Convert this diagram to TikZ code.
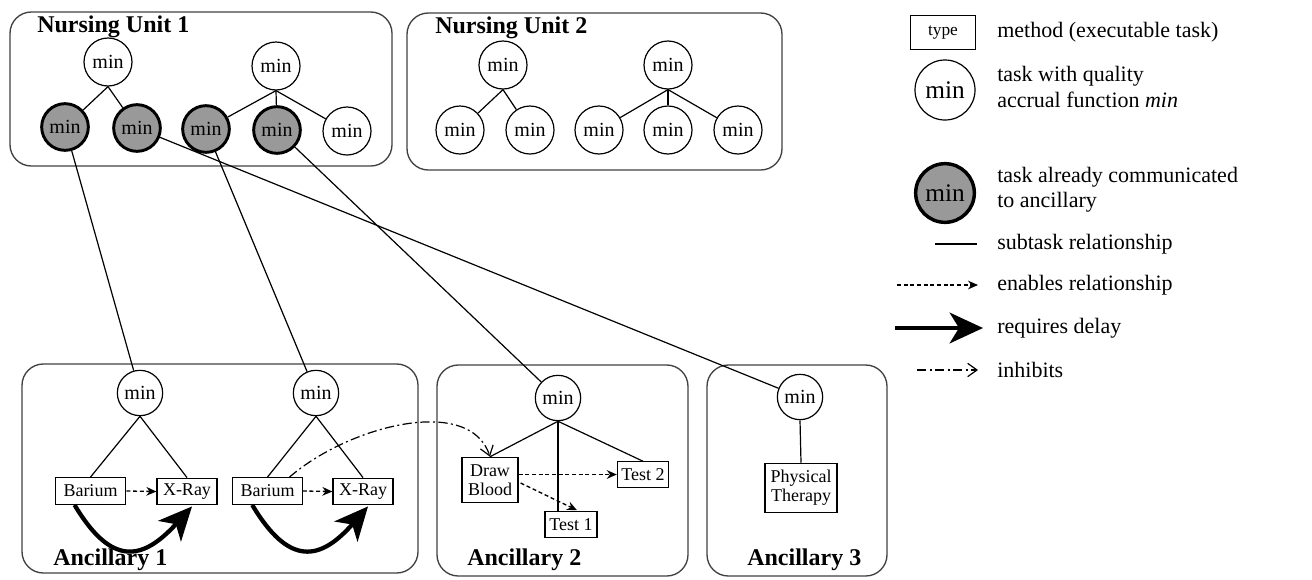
\documentclass[tikz,border=0pt]{standalone}
\usepackage{fontspec}
\setmainfont{Liberation Serif}
\usetikzlibrary{arrows.meta,calc}
\begin{document}
\begin{tikzpicture}[x=0.75pt,y=-0.75pt,
 unitbox/.style={draw=black!75,line width=1pt,rounded corners=16pt},
 title/.style={font=\fontsize{18}{18}\selectfont\bfseries,anchor=base west,inner sep=0},
 task/.style={circle,draw,line width=0.9pt,minimum size=36pt,inner sep=0,font=\fontsize{15}{15}\selectfont},
 donetask/.style={task,fill=black!40,line width=2.2pt,minimum size=35pt},
 atask/.style={task,minimum size=34pt},
 method/.style={draw,line width=0.9pt,inner xsep=3pt,inner ysep=2pt,minimum height=20pt,font=\fontsize{13.5}{14}\selectfont,align=center},
 sub/.style={line width=0.9pt},
 enab/.style={line width=1pt,dash pattern=on 3pt off 2pt,-{Stealth[length=7.5pt,width=6.5pt]}},
 delay/.style={line width=3.2pt,-{Stealth[length=25pt,width=23pt,inset=7pt]}},
 inhib/.style={line width=0.9pt,dash pattern=on 7pt off 2.5pt on 1.5pt off 2.5pt,-{Straight Barb[length=7pt,width=10pt]}},
 legtext/.style={anchor=west,inner sep=0,align=left,font=\fontsize{16.5}{19}\selectfont}
]
\useasboundingbox (0,0) rectangle (1312,579);

% unit boxes
\draw[unitbox] (10,12) rectangle (392,166);
\draw[unitbox] (407,13) rectangle (782,170);
\draw[unitbox] (22,364) rectangle (418,573);
\draw[unitbox] (437,365) rectangle (688,576);
\draw[unitbox] (707,365) rectangle (887,576);

\node[title] (tnu1) at (37,32) {Nursing Unit 1};
\node[title] (tnu2) at (435,33) {Nursing Unit 2};
\node[title] (tan1) at (53,565) {Ancillary 1};
\node[title] (tan2) at (467,565) {Ancillary 2};
\node[title] (tan3) at (747,565) {Ancillary 3};

% Nursing unit 1
\node[task] (a) at (108,62) {min};
\node[task] (b) at (276,66) {min};
\node[donetask] (g1) at (65,127) {min};
\node[donetask] (g2) at (137,128) {min};
\node[donetask] (g3) at (206,129) {min};
\node[donetask] (g4) at (277,130) {min};
\node[task] (w5) at (347,131) {min};
\draw[sub] (a.south) -- (g1);
\draw[sub] (a.south) -- (g2);
\draw[sub] (b.south) -- (g3);
\draw[sub] (b.south) -- (g4);
\draw[sub] (b.south) -- (w5);

% Nursing unit 2
\node[task] (c) at (503,65) {min};
\node[task] (d) at (668,65) {min};
\node[task] (e1) at (460,130) {min};
\node[task] (e2) at (530,130) {min};
\node[task] (e3) at (599,130) {min};
\node[task] (e4) at (668,130) {min};
\node[task] (e5) at (738,130) {min};
\draw[sub] (c.south) -- (e1);
\draw[sub] (c.south) -- (e2);
\draw[sub] (d.south) -- (e3);
\draw[sub] (d.south) -- (e4);
\draw[sub] (d.south) -- (e5);

% Ancillary 1
\node[atask] (A1) at (140,393) {min};
\node[atask] (A2) at (316,393) {min};
\node[method,minimum width=53pt] (bar1) at (90.5,491) {Barium};
\node[method,minimum width=45pt] (xr1) at (187,491.5) {X-Ray};
\node[method,minimum width=52pt] (bar2) at (267.5,491) {Barium};
\node[method,minimum width=45pt] (xr2) at (363,491.5) {X-Ray};
\draw[sub] (A1.south) -- (bar1.north);
\draw[sub] (A1.south) -- (xr1.north);
\draw[sub] (A2.south) -- (bar2.north);
\draw[sub] (A2.south) -- (xr2.north);
\draw[enab] (bar1.east) -- (xr1.west);
\draw[enab] (bar2.east) -- (xr2.west);
\draw[delay] ($(bar1.south west)+(20,0)$) .. controls ($(bar1.south west)+(57,62)$) and ($(bar1.south west)+(88,56)$) .. ($(xr1.south)+(5,1)$);
\draw[delay] ($(bar2.south west)+(20,0)$) .. controls ($(bar2.south west)+(57,62)$) and ($(bar2.south west)+(88,56)$) .. ($(xr2.south)+(5,1)$);

% Ancillary 2
\node[atask] (B) at (558,398) {min};
\node[method,minimum width=42pt,minimum height=34pt] (db) at (490,480) {Draw\\Blood};
\node[method,minimum width=37.5pt,minimum height=19pt] (t2) at (643,474.5) {Test 2};
\node[method,minimum width=39pt,minimum height=19pt] (t1) at (571,524.5) {Test 1};
\draw[sub] (B.south) -- (db.north);
\draw[sub] (B.south) -- (B.south |- t1.north);
\draw[sub] (B.south) -- (t2.north);
\draw[enab] (db.east |- t2.west) -- (t2.west);
\draw[enab] ($(db.east)+(2,3)$) -- ($(t1.north)+(6,-1)$);
\draw[inhib] ($(bar2.north)+(22,0)$) .. controls (350,425) and (470,395) .. (db.north);

% Ancillary 3
\node[atask] (C) at (800,397) {min};
\node[method,minimum width=54pt,minimum height=37pt] (pt) at (801,488) {Physical\\Therapy};
\draw[sub] (C.south) -- (pt.north);

% cross links
\draw[sub] (g1) -- (A1);
\draw[sub] (g2) -- (C);
\draw[sub] (g3) -- (A2);
\draw[sub] (g4) -- (B);

% legend
\node[method,minimum width=49pt,minimum height=26pt,font=\fontsize{13}{14}\selectfont] (ltype) at (943,32.5) {type};
\node[legtext] (lt1) at (997,32) {method (executable task)};
\node[task,minimum size=45pt,font=\fontsize{19}{19}\selectfont] (lmin) at (945,90) {min};
\node[legtext] (lt2) at (997,87) {task with quality\\accrual function \textit{min}};
\node[donetask,minimum size=44pt,line width=2.6pt,font=\fontsize{19}{19}\selectfont] (lgray) at (945,193) {min};
\node[legtext] (lt3) at (997,190) {task already communicated\\to ancillary};
\coordinate (s1) at (935,244); \coordinate (s2) at (977,244);
\draw[sub] (s1) -- (s2);
\node[legtext] (lt4) at (997,244) {subtask relationship};
\coordinate (e1a) at (897,285); \coordinate (e1b) at (978,285);
\draw[enab] (e1a) -- (e1b);
\node[legtext] (lt5) at (997,285) {enables relationship};
\coordinate (d1a) at (895,328); \coordinate (d1b) at (983,328);
\draw[delay] (d1a) -- (d1b);
\node[legtext] (lt6) at (997,328) {requires delay};
\coordinate (i1a) at (917,370); \coordinate (i1b) at (978,370);
\draw[inhib] (i1a) -- (i1b);
\node[legtext] (lt7) at (997,370) {inhibits};
\end{tikzpicture}
\end{document}
